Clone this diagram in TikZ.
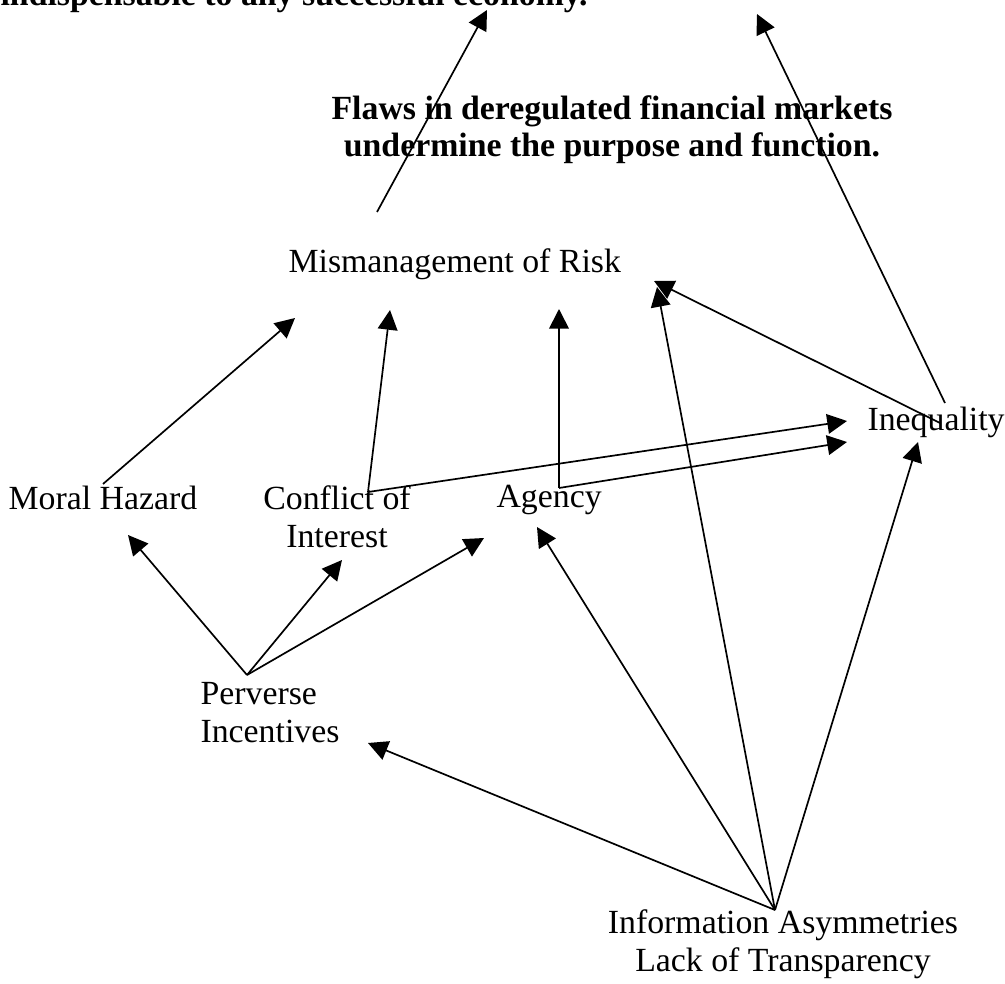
\documentclass[tikz,border=0pt]{standalone}
\usepackage{fontspec}
\setmainfont{Liberation Serif}
\usetikzlibrary{arrows.meta}
\tikzstyle{line} = [draw, line width=0.6pt, -{Triangle[length=7pt,width=7pt]}]
\tikzstyle{txt} = [inner sep=0pt, font=\fontsize{12}{13.4}\selectfont, align=center]
\tikzstyle{heading} = [inner sep=0pt, font=\fontsize{12}{13.2}\selectfont\bfseries, align=center]

\begin{document}
\begin{tikzpicture}[x=0.355pt, y=-0.355pt]
        \useasboundingbox (0,0) rectangle (1005,984);
        % texts, placed on their (last) baselines
        \node[heading, anchor=base west] (goal) at (0,6) {indispensable to any successful economy.};
        \node[heading, anchor=base] (flaws) at (612,157) {Flaws in deregulated financial markets\\undermine the purpose and function.};
        \node[txt, anchor=base west] (mis) at (288,273) {Mismanagement of Risk};
        \node[txt, anchor=base west] (ineq) at (867,430) {Inequality};
        \node[txt, anchor=base west] (moral) at (8,509) {Moral Hazard};
        \node[txt, anchor=base] (conflict) at (337,547) {Conflict of\\Interest};
        \node[txt, anchor=base west] (agency) at (496,508) {Agency};
        \node[txt, anchor=base west, align=left] (perverse) at (200,742) {Perverse\\Incentives};
        \node[txt, anchor=base] (info) at (783,971) {Information Asymmetries\\Lack of Transparency};
        % arrow ends
        \coordinate (mis-out) at (377,212);
        \coordinate (goal-in1) at (487,10);
        \coordinate (goal-in2) at (757,14);
        \coordinate (moral-out) at (103,484);
        \coordinate (conflict-out) at (368,492);
        \coordinate (agency-out) at (559,488);
        \coordinate (ineq-out1) at (940,423);
        \coordinate (ineq-out2) at (945,403);
        \coordinate (perverse-out) at (247,675);
        \coordinate (info-out) at (775,910);
        \coordinate (mis-in1) at (295,318);
        \coordinate (mis-in2) at (390,310);
        \coordinate (mis-in3) at (559,309);
        \coordinate (mis-in4) at (657,287);
        \coordinate (mis-in5) at (654,281);
        \coordinate (ineq-in1) at (847,421);
        \coordinate (ineq-in2) at (847,442);
        \coordinate (ineq-in3) at (918,442);
        \coordinate (moral-in) at (128,535);
        \coordinate (conflict-in) at (342,560);
        \coordinate (agency-in1) at (484,538);
        \coordinate (agency-in2) at (537,527);
        \coordinate (perverse-in) at (368,743);
        % connectors
        \path[line] (mis-out) -- (goal-in1);
        \path[line] (ineq-out2) -- (goal-in2);
        \path[line] (moral-out) -- (mis-in1);
        \path[line] (conflict-out) -- (mis-in2);
        \path[line] (agency-out) -- (mis-in3);
        \path[line] (info-out) -- (mis-in4);
        \path[line] (ineq-out1) -- (mis-in5);
        \path[line] (conflict-out) -- (ineq-in1);
        \path[line] (agency-out) -- (ineq-in2);
        \path[line] (info-out) -- (ineq-in3);
        \path[line] (perverse-out) -- (moral-in);
        \path[line] (perverse-out) -- (conflict-in);
        \path[line] (perverse-out) -- (agency-in1);
        \path[line] (info-out) -- (agency-in2);
        \path[line] (info-out) -- (perverse-in);
    \end{tikzpicture}
\end{document}
